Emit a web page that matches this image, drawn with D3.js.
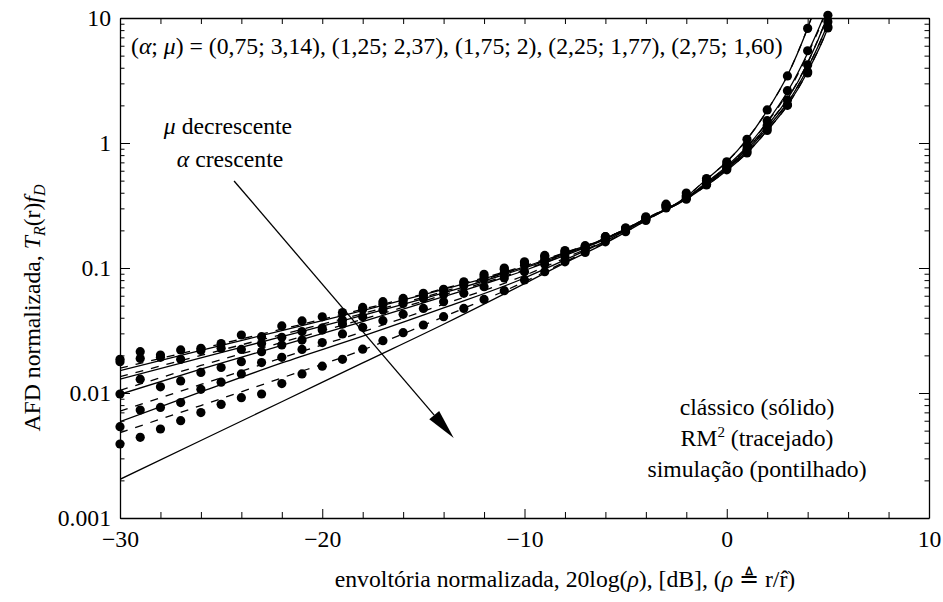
<!DOCTYPE html>
<html><head><meta charset="utf-8">
<script src="https://cdn.jsdelivr.net/npm/d3@7"></script>
<style>
body{margin:0;background:#fff}
svg{display:block}
</style>
</head><body>
<svg id="chart" width="943" height="602"></svg>
<script>
// ---------- data ----------
const lineX = [-30,-26,-22,-18,-14,-10,-8,-6,-4,-2,-1,0,1,2,3,4,5,5.5];
// classic formula (solid)
const classic1 = [0.0151,0.0219,0.0316,0.0457,0.0676,0.102,0.132,0.172,0.245,0.355,0.457,0.603,0.832,1.26,2.0,3.72,8.32,14.1];
const classic2 = [0.0129,0.0191,0.0282,0.0417,0.0631,0.100,0.129,0.172,0.247,0.359,0.468,0.617,0.861,1.32,2.09,3.98,9.12,15.8];
const classic3 = [0.00977,0.0155,0.0240,0.0372,0.0589,0.0955,0.126,0.170,0.248,0.363,0.473,0.631,0.891,1.38,2.24,4.37,10.5,17.8];
const classic4 = [0.00589,0.0102,0.0174,0.0285,0.0479,0.0832,0.116,0.164,0.245,0.363,0.484,0.653,0.933,1.48,2.57,5.25,12.6,22.4];
const classic5 = [0.00204,0.00417,0.00851,0.0174,0.0355,0.075,0.110,0.158,0.240,0.372,0.513,0.708,1.07,1.82,3.47,8.32,25.1,50.1];
// RM^2 (dashed)
const rm1 = [0.0158,0.0226,0.0324,0.0468,0.0684,0.104,0.133,0.173,0.246,0.356,0.458,0.605,0.835,1.26,2.0,3.75,8.4,14.3];
const rm2 = [0.0135,0.0200,0.0294,0.0432,0.0648,0.102,0.130,0.173,0.248,0.36,0.47,0.62,0.865,1.33,2.1,4.0,9.2,16];
const rm3 = [0.0105,0.0166,0.0254,0.0389,0.0609,0.097,0.127,0.171,0.249,0.365,0.475,0.635,0.895,1.39,2.26,4.4,10.6,18];
const rm4 = [0.00716,0.0117,0.0191,0.0309,0.0513,0.0871,0.120,0.166,0.245,0.363,0.479,0.646,0.923,1.46,2.51,5.13,12.3,21.4];
const rm5 = [0.00482,0.00794,0.0132,0.0221,0.0407,0.0776,0.112,0.160,0.240,0.372,0.513,0.708,1.07,1.82,3.47,8.32,25.1,50.1];
// simulation (dots), one value per dB from -30 to 5
const simX = [-30,-29,-28,-27,-26,-25,-24,-23,-22,-21,-20,-19,-18,-17,-16,-15,-14,-13,-12,-11,-10,-9,-8,-7,-6,-5,-4,-3,-2,-1,0,1,2,3,4,5];
const sim1 = [0.0186,0.0214,0.0201,0.0221,0.0228,0.0249,0.0291,0.0282,0.0344,0.0377,0.0407,0.0440,0.0484,0.0538,0.0571,0.0627,0.0675,0.0776,0.0891,0.100,0.112,0.126,0.138,0.151,0.174,0.204,0.245,0.302,0.355,0.462,0.610,0.832,1.26,2.0,3.63,8.32];
const sim2 = [0.0178,0.0189,0.0193,0.0186,0.0219,0.0228,0.0223,0.0249,0.0279,0.0310,0.0331,0.0384,0.0468,0.0513,0.0550,0.0603,0.0661,0.0759,0.0851,0.0977,0.110,0.123,0.135,0.148,0.178,0.209,0.251,0.309,0.363,0.468,0.624,0.851,1.32,2.02,3.72,8.51];
const sim3 = [0.00982,0.0129,0.0112,0.0125,0.0146,0.0160,0.0178,0.0214,0.0242,0.0265,0.0319,0.0356,0.0408,0.0461,0.0521,0.0571,0.0615,0.0724,0.0813,0.0912,0.105,0.117,0.132,0.145,0.178,0.209,0.251,0.316,0.372,0.479,0.646,0.891,1.38,2.21,4.21,9.33];
const sim4 = [0.00538,0.00731,0.00767,0.00838,0.0107,0.0122,0.0142,0.0175,0.0193,0.0223,0.0253,0.0297,0.0335,0.0379,0.0426,0.0475,0.0538,0.0627,0.0708,0.0832,0.0933,0.107,0.123,0.141,0.170,0.204,0.257,0.324,0.380,0.501,0.676,0.955,1.51,2.62,5.47,10.5];
const sim5 = [0.00391,0.00442,0.00515,0.00601,0.00697,0.00811,0.00918,0.00982,0.0119,0.0142,0.0164,0.0186,0.0224,0.0262,0.0304,0.0350,0.0408,0.0475,0.0561,0.0659,0.0802,0.0935,0.112,0.133,0.162,0.195,0.240,0.316,0.398,0.520,0.708,1.07,1.84,3.44,8.26,null];
// axes
const xMajor = [-30,-20,-10,0,10];
const xMinor = [-28,-26,-24,-22,-18,-16,-14,-12,-8,-6,-4,-2,2,4,6,8];
const xTickLabels = ["\u221230","\u221220","\u221210","0","10"];
const yMajor = [0.001,0.01,0.1,1,10];
const yTickLabels = ["0.001","0.01","0.1","1","10"];
const yMinor = [0.002,0.003,0.004,0.005,0.006,0.007,0.008,0.009,
                0.02,0.03,0.04,0.05,0.06,0.07,0.08,0.09,
                0.2,0.3,0.4,0.5,0.6,0.7,0.8,0.9,
                2,3,4,5,6,7,8,9];
// annotation arrow (data coordinates: start, tip)
const arrowStart = [-24.36, 0.497];
const arrowTip = [-13.5, 0.00437];

// ---------- drawing ----------
const FONT = "'Liberation Serif','Times New Roman','DejaVu Serif',serif";
const fs = 23.7;
const svg = d3.select("#chart");
const L = 120, R = 929, T = 18, B = 518;
const x = d3.scaleLinear().domain([-30,10]).range([L,R]);
const y = d3.scaleLog().domain([0.001,10]).range([B,T]);

svg.append("defs").append("clipPath").attr("id","clip")
  .append("rect").attr("x",L).attr("y",T).attr("width",R-L).attr("height",B-T);

const line = d3.line()
  .defined(d => d[1] != null)
  .x(d => x(d[0])).y(d => y(d[1]))
  .curve(d3.curveMonotoneX);

const plot = svg.append("g").attr("clip-path","url(#clip)");
[classic1,classic2,classic3,classic4,classic5].forEach(s => {
  plot.append("path").attr("d", line(lineX.map((v,i)=>[v,s[i]])))
    .attr("fill","none").attr("stroke","#000").attr("stroke-width",1.3);
});
[rm1,rm2,rm3,rm4,rm5].forEach(s => {
  plot.append("path").attr("d", line(lineX.map((v,i)=>[v,s[i]])))
    .attr("fill","none").attr("stroke","#000").attr("stroke-width",1.3)
    .attr("stroke-dasharray","8,8");
});
const dots = svg.append("g");
[sim1,sim2,sim3,sim4,sim5].forEach(s => {
  dots.selectAll(null).data(simX.map((v,i)=>[v,s[i]]).filter(d=>d[1]!=null))
    .enter().append("circle")
    .attr("cx", d => x(d[0])).attr("cy", d => y(d[1])).attr("r", 4.6).attr("fill","#000");
});

// axes
function styleAxis(g){
  g.selectAll("path.domain").attr("stroke","#000").attr("stroke-width",1.3);
  g.selectAll(".tick line").attr("stroke","#000").attr("stroke-width",1);
  g.attr("font-family",FONT).attr("font-size",fs);
  g.selectAll("text").attr("font-family",FONT).attr("font-size",fs).attr("fill","#000");
}
const gb = svg.append("g").attr("transform",`translate(0,${B})`)
  .call(d3.axisBottom(x).tickValues(xMajor).tickSize(-9).tickSizeOuter(0).tickPadding(12)
    .tickFormat((d,i)=>xTickLabels[i]));
styleAxis(gb);
gb.selectAll("text").attr("dy","0.71em");
const gbm = svg.append("g").attr("transform",`translate(0,${B})`)
  .call(d3.axisBottom(x).tickValues(xMinor).tickSize(-6).tickFormat(""));
gbm.select("path.domain").remove(); styleAxis(gbm);

const gt = svg.append("g").attr("transform",`translate(0,${T})`)
  .call(d3.axisTop(x).tickValues(xMajor.concat(xMinor)).tickSize(-6).tickSizeOuter(0).tickFormat(""));
styleAxis(gt);

const gl = svg.append("g").attr("transform",`translate(${L},0)`)
  .call(d3.axisLeft(y).tickValues(yMajor).tickSize(-10).tickSizeOuter(0).tickPadding(9)
    .tickFormat((d,i)=>yTickLabels[i]));
styleAxis(gl);
const glm = svg.append("g").attr("transform",`translate(${L},0)`)
  .call(d3.axisLeft(y).tickValues(yMinor).tickSize(-4.5).tickFormat(""));
glm.select("path.domain").remove(); styleAxis(glm);

const gr = svg.append("g").attr("transform",`translate(${R},0)`)
  .call(d3.axisRight(y).tickValues(yMajor).tickSize(-10).tickSizeOuter(0).tickFormat(""));
styleAxis(gr);
const grm = svg.append("g").attr("transform",`translate(${R},0)`)
  .call(d3.axisRight(y).tickValues(yMinor).tickSize(-4.5).tickFormat(""));
grm.select("path.domain").remove(); styleAxis(grm);

// arrow
const ax0 = x(arrowStart[0]), ay0 = y(arrowStart[1]);
const ax1 = x(arrowTip[0]), ay1 = y(arrowTip[1]);
const ang = Math.atan2(ay1-ay0, ax1-ax0);
const hl = 30, hw = 6.5;
const bx = ax1 - hl*Math.cos(ang), by = ay1 - hl*Math.sin(ang);
svg.append("line").attr("x1",ax0).attr("y1",ay0).attr("x2",bx).attr("y2",by)
  .attr("stroke","#000").attr("stroke-width",1.3);
svg.append("path").attr("d",
  `M${ax1},${ay1} L${bx - hw*Math.sin(ang)},${by + hw*Math.cos(ang)} L${bx + hw*Math.sin(ang)},${by - hw*Math.cos(ang)} Z`)
  .attr("fill","#000");

// texts
function t(xp, yp, anchor){
  return svg.append("text").attr("x",xp).attr("y",yp).attr("text-anchor",anchor)
    .attr("font-family",FONT).attr("font-size",fs).attr("fill","#000");
}

const title = t(131, 54, "start");
title.append("tspan").text("(");
title.append("tspan").attr("font-style","italic").text("\u03b1");
title.append("tspan").text("; ");
title.append("tspan").attr("font-style","italic").text("\u03bc");
title.append("tspan").text(") = (0,75; 3,14), (1,25; 2,37), (1,75; 2), (2,25; 1,77), (2,75; 1,60)");

const a1 = t(228, 134, "middle");
a1.append("tspan").attr("font-style","italic").text("\u03bc");
a1.append("tspan").text(" decrescente");
const a2 = t(230, 167, "middle");
a2.append("tspan").attr("font-style","italic").text("\u03b1");
a2.append("tspan").text(" crescente");

t(757, 415, "middle").text("cl\u00e1ssico (s\u00f3lido)");
const lg2 = t(757, 446, "middle");
lg2.append("tspan").text("RM");
lg2.append("tspan").attr("font-size",15).attr("dy",-9).text("2");
lg2.append("tspan").attr("dy",9).text(" (tracejado)");
t(757, 477, "middle").text("simula\u00e7\u00e3o (pontilhado)");

const xl = t(565, 587, "middle");
xl.append("tspan").text("envolt\u00f3ria normalizada, 20log(");
xl.append("tspan").attr("font-style","italic").text("\u03c1");
xl.append("tspan").text("), [dB], (");
xl.append("tspan").attr("font-style","italic").text("\u03c1");
xl.append("tspan").text(" \u225c r/r\u0302)");

const yl = svg.append("text").attr("transform","translate(40,308) rotate(-90)")
  .attr("text-anchor","middle").attr("font-family",FONT).attr("font-size",fs).attr("fill","#000");
yl.append("tspan").text("AFD normalizada, ");
yl.append("tspan").attr("font-style","italic").text("T");
yl.append("tspan").attr("font-style","italic").attr("font-size",16).attr("dy",5).text("R");
yl.append("tspan").attr("dy",-5).text("(r)");
yl.append("tspan").attr("font-style","italic").text("f");
yl.append("tspan").attr("font-style","italic").attr("font-size",16).attr("dy",5).text("D");
</script>
</body></html>
